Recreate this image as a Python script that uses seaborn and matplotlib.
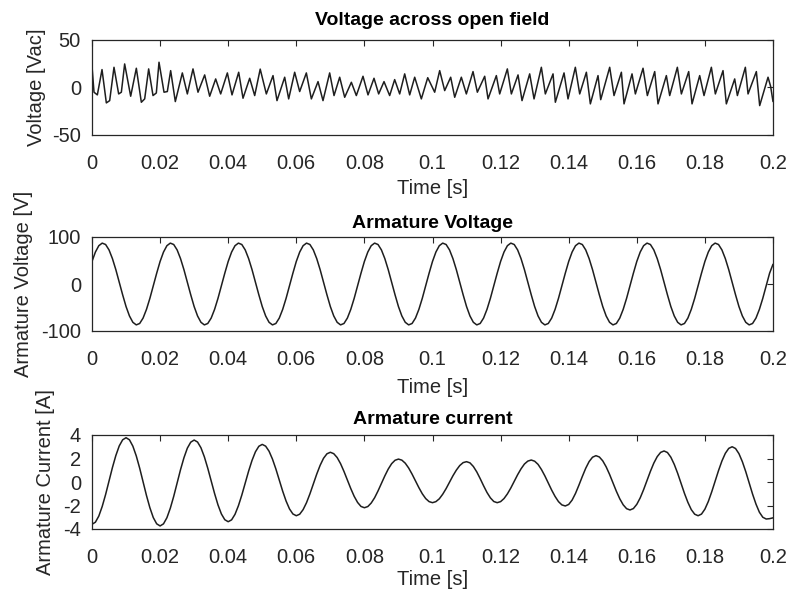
import numpy as np
import pandas as pd
import matplotlib
matplotlib.use("Agg")
import matplotlib.pyplot as plt
import seaborn as sns

# ---------------- data ----------------
# Voltage across open field: vertices (time in ms, value in Vac)
open_t_ms = [0, 0.59, 1.57, 2.94, 4.21, 5.19, 6.46, 7.83, 8.62, 9.59, 11.36, 13.02, 14.49, 15.47,
             16.64, 17.92, 18.89, 19.68, 21.15, 22.12, 23.10, 24.47, 26.53, 28.0, 29.66, 31.13,
             33.09, 34.56, 36.32, 37.79, 39.75, 41.12, 43.08, 44.35, 46.31, 47.78, 49.4, 51.20,
             53.16, 54.33, 56.59, 57.76, 59.52, 60.99, 62.95, 64.42, 66.38, 67.84, 69.80, 71.08,
             72.74, 74.21, 76.17, 77.63, 79.59, 81.06, 82.82, 84.19, 85.76, 87.42, 88.89, 90.36,
             91.83, 93.30, 94.77, 96.72, 98.6, 100.64, 102.11, 103.58, 105.34, 106.52, 108.47,
             109.94, 111.90, 113.17, 115.33, 116.31, 118.75, 119.73, 121.98, 123.16, 125.12,
             126.29, 128.54, 129.82, 131.97, 133.14, 135.40, 136.08, 138.63, 139.80, 141.95,
             143.23, 145.19, 146.36, 148.61, 149.4, 152.04, 153.31, 155.47, 156.25, 158.60,
             159.58, 161.83, 163.10, 165.26, 166.23, 168.68, 169.66, 171.91, 173.09, 175.24,
             176.22, 178.47, 179.74, 181.90, 183.07, 185.32, 186.30, 188.75, 189.54, 191.88,
             192.67, 195.11, 196.09, 198.54, 199.3, 200]
open_v = [22, -5.2, -8.0, 18.5, -16.4, -14.0, 20.9, -7.0, -5.2, 24.4, -9.4, 19.9, -15.7, -12.2,
          19.2, -8.7, -6.0, 26.2, -5.2, -4.5, 17.4, -15.0, 15.0, -7.0, 19.2, -5.2,
          12.9, -9.4, 8.7, -7.0, 15.0, -8.0, 15.7, -11.5, 9.4, -8.7, 19.0, -7.0,
          12.2, -14.0, 10.5, -12.2, 15.7, -4.5, 15.0, -12.2, 5.9, -14.0, 15.0, -8.7,
          10.5, -10.5, 5.2, -8.7, 11.5, -8.0, 9.4, -7.0, 5.9, -8.7, 8.0, -7.0,
          14.0, -8.0, 10.5, -12.2, 10.0, -5.2, 17.4, -3.5, 10.5, -10.5, 10.5,
          -7.0, 16.4, -5.2, 11.5, -12.2, 12.2, -7.0, 19.2, -7.0, 12.9,
          -14.0, 14.0, -12.2, 20.9, -7.0, 14.0, -15.7, 15.0, -12.2, 20.9,
          -7.0, 15.7, -17.4, 12.2, -13.0, 20.9, -8.7, 15.7, -17.4, 14.0,
          -7.0, 19.9, -8.7, 16.4, -17.4, 12.2, -8.7, 20.9, -7.0, 16.4,
          -17.4, 12.2, -8.7, 20.9, -7.0, 17.4, -17.4, 8.7, -8.7, 20.9,
          -7.0, 16.4, -19.2, 10.5, 1.0, -15.0]

# Armature voltage [V], sampled every 1 ms from 0 to 200 ms
arm_voltage = [
    48, 68, 81.5, 87, 84, 72.5, 54, 30.5, 4, -23, -48, -68, -81.5, -87, -84, -72.5, -54, -30.5, -4, 23,
    48, 68, 81.5, 87, 84, 72.5, 54, 30.5, 4, -23, -48, -68, -81.5, -87, -84, -72.5, -54, -30.5, -4, 23,
    48, 68, 81.5, 87, 84, 72.5, 54, 30.5, 4, -23, -48, -68, -81.5, -87, -84, -72.5, -54, -30.5, -4, 23,
    48, 68, 81.5, 87, 84, 72.5, 54, 30.5, 4, -23, -48, -68, -81.5, -87, -84, -72.5, -54, -30.5, -4, 23,
    48, 68, 81.5, 87, 84, 72.5, 54, 30.5, 4, -23, -48, -68, -81.5, -87, -84, -72.5, -54, -30.5, -4, 23,
    48, 68, 81.5, 87, 84, 72.5, 54, 30.5, 4, -23, -48, -68, -81.5, -87, -84, -72.5, -54, -30.5, -4, 23,
    48, 68, 81.5, 87, 84, 72.5, 54, 30.5, 4, -23, -48, -68, -81.5, -87, -84, -72.5, -54, -30.5, -4, 23,
    48, 68, 81.5, 87, 84, 72.5, 54, 30.5, 4, -23, -48, -68, -81.5, -87, -84, -72.5, -54, -30.5, -4, 23,
    48, 68, 81.5, 87, 84, 72.5, 54, 30.5, 4, -23, -48, -68, -81.5, -87, -84, -72.5, -54, -30.5, -4, 23,
    48, 68, 81.5, 87, 84, 72.5, 54, 30.5, 4, -23, -48, -68, -81.5, -87, -84, -72.5, -54, -30.5, -4, 23,
    42]

# Armature current [A], sampled every 1 ms from 0 to 200 ms
arm_current = [
    -3.60, -3.42, -2.90, -2.08, -1.06, 0.09, 1.23, 2.25, 3.07, 3.59,
    3.77, 3.59, 3.05, 2.22, 1.18, 0.02, -1.15, -2.19, -3.03, -3.56,
    -3.74, -3.56, -3.04, -2.23, -1.22, -0.09, 1.05, 2.06, 2.88, 3.39,
    3.57, 3.40, 2.91, 2.14, 1.17, 0.10, -0.98, -1.95, -2.72, -3.21,
    -3.38, -3.22, -2.75, -2.02, -1.11, -0.09, 0.93, 1.84, 2.57, 3.04,
    3.20, 3.05, 2.62, 1.95, 1.11, 0.17, -0.78, -1.62, -2.29, -2.72,
    -2.87, -2.74, -2.35, -1.76, -1.01, -0.17, 0.67, 1.42, 2.02, 2.40,
    2.53, 2.41, 2.08, 1.56, 0.90, 0.17, -0.56, -1.22, -1.74, -2.08,
    -2.19, -2.09, -1.79, -1.34, -0.76, -0.12, 0.52, 1.10, 1.56, 1.85,
    1.95, 1.86, 1.60, 1.19, 0.67, 0.10, -0.48, -1.00, -1.41, -1.67,
    -1.76, -1.67, -1.43, -1.04, -0.56, -0.02, 0.53, 1.01, 1.40, 1.65,
    1.73, 1.63, 1.32, 0.86, 0.29, -0.32, -0.89, -1.35, -1.66, -1.76,
    -1.67, -1.41, -1.01, -0.51, 0.06, 0.62, 1.12, 1.53, 1.78, 1.87,
    1.77, 1.50, 1.06, 0.52, -0.09, -0.69, -1.23, -1.67, -1.95, -2.04,
    -1.91, -1.54, -0.97, -0.27, 0.47, 1.17, 1.74, 2.11, 2.24, 2.13,
    1.80, 1.29, 0.65, -0.07, -0.79, -1.43, -1.94, -2.27, -2.38, -2.26,
    -1.90, -1.35, -0.65, 0.13, 0.91, 1.61, 2.16, 2.52, 2.64, 2.51,
    2.11, 1.50, 0.74, -0.12, -0.97, -1.73, -2.35, -2.74, -2.87, -2.73,
    -2.31, -1.66, -0.84, 0.07, 0.97, 1.79, 2.44, 2.86, 3.00, 2.85,
    2.41, 1.73, 0.88, -0.08, -1.03, -1.88, -2.57, -3.00, -3.15, -3.12,
    -3.05]

x_ticks = [0, 0.02, 0.04, 0.06, 0.08, 0.1, 0.12, 0.14, 0.16, 0.18, 0.2]
x_tick_labels = ["0", "0.02", "0.04", "0.06", "0.08", "0.1", "0.12", "0.14", "0.16", "0.18", "0.2"]

titles = ["Voltage across open field", "Armature Voltage", "Armature current"]
ylabels = ["Voltage [Vac]", "Armature Voltage [V]", "Armature Current [A]"]
xlabel = "Time [s]"
y_ticks = [[-50, 0, 50], [-100, 0, 100], [-4, -2, 0, 2, 4]]
y_lims = [(-50, 50), (-100, 100), (-4, 4)]

# ---------------- figure ----------------
sns.set_theme(style="white")
plt.rcParams["font.family"] = ["Liberation Sans", "DejaVu Sans"]

ink = "#262626"
line_col = "#1e1e1e"

fig = plt.figure(figsize=(7.90, 5.97), dpi=100)
W, H = 790, 597
left, right = 92, 773
boxes = [(39.5, 135), (237, 331), (435, 529)]
title_pads = [10.5, 6.5, 8]
xlabel_pads = [4.5, 7, 2]
ylabel_pads = [4.5, 6, 5.5]
axes = []
for top, bot in boxes:
    axes.append(fig.add_axes([left / W, 1 - bot / H, (right - left) / W, (bot - top) / H]))

t_grid = np.arange(len(arm_voltage)) / 1000.0

frames = [
    pd.DataFrame({"t": np.array(open_t_ms) / 1000.0, "v": open_v}),
    pd.DataFrame({"t": t_grid, "v": arm_voltage}),
    pd.DataFrame({"t": t_grid, "v": arm_current}),
]

for i, ax in enumerate(axes):
    sns.lineplot(data=frames[i], x="t", y="v", ax=ax, color=line_col, linewidth=1.1,
                 estimator=None, sort=False)
    ax.set_xlim(0, 0.2)
    ax.set_ylim(*y_lims[i])
    ax.set_xticks(x_ticks)
    ax.set_xticklabels(x_tick_labels)
    ax.set_yticks(y_ticks[i])
    ax.set_yticklabels([str(v) for v in y_ticks[i]])
    ax.tick_params(axis="both", direction="in", top=True, right=True, length=4.5,
                   width=0.8, colors=ink, labelsize=14.5, labelcolor=ink)
    ax.tick_params(axis="x", pad=13.5)
    ax.tick_params(axis="y", pad=8)
    for s in ax.spines.values():
        s.set_visible(True)
        s.set_color(ink)
        s.set_linewidth(0.9)
    ax.set_title(titles[i], fontsize=14, fontweight="bold", color="black", pad=title_pads[i])
    ax.set_xlabel(xlabel, fontsize=14.5, color=ink, labelpad=xlabel_pads[i])
    ax.set_ylabel(ylabels[i], fontsize=14.5, color=ink, labelpad=ylabel_pads[i])
    ax.grid(False)
    ax.set_facecolor("white")

fig.savefig("out.png", dpi=100, facecolor="white")
